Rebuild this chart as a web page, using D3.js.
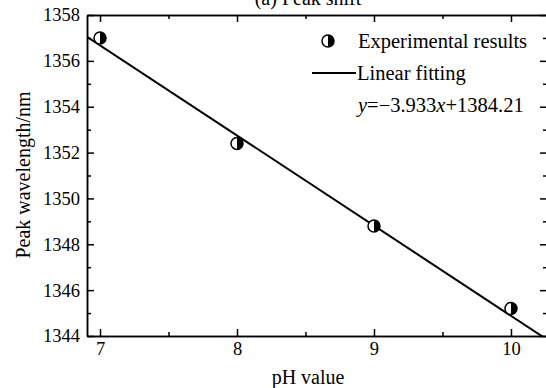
<!DOCTYPE html>
<html>
<head>
<meta charset="utf-8">
<script src="https://cdn.jsdelivr.net/npm/d3@7"></script>
<style>
  body { margin: 0; background: #fff; }
  svg text { font-family: "Liberation Serif", "DejaVu Serif", serif !important; fill: #000; }
  .axis path, .axis line { stroke: #000; stroke-width: 1.5; }
</style>
</head>
<body>
<div id="chart"></div>
<script>
// pH vs peak wavelength
const phValues = [7, 8, 9, 10];
const peakWavelengths = [1357.0, 1352.4, 1348.8, 1345.2];
const fitSlope = -3.933;
const fitIntercept = 1384.21;
const xTicks = [7, 8, 9, 10];
const xMinorTicks = [7.5, 8.5, 9.5];
const yTicks = [1344, 1346, 1348, 1350, 1352, 1354, 1356, 1358];
const yMinorTicks = [1345, 1347, 1349, 1351, 1353, 1355, 1357];

const FONT = '"Liberation Serif", "DejaVu Serif", serif';

const config = {
  width: 546,
  height: 388,
  markerRadius: 6
};

const svg = d3.select('#chart').append('svg')
  .attr('width', config.width)
  .attr('height', config.height);

const x = d3.scaleLinear().domain([6.905, 10.263]).range([87, 547]);
const y = d3.scaleLinear().domain([1344, 1358]).range([336, 15]);

// clip so the fit line stops at the frame
svg.append('defs').append('clipPath').attr('id', 'plot-clip')
  .append('rect')
  .attr('x', x.range()[0]).attr('y', y.range()[1])
  .attr('width', x.range()[1] - x.range()[0])
  .attr('height', y.range()[0] - y.range()[1]);

// axes: major ticks with labels, minor ticks without, all pointing inward
const addAxis = (axis, tx, ty) => svg.append('g')
  .attr('class', 'axis')
  .attr('transform', `translate(${tx},${ty})`)
  .call(axis)
  .attr('font-family', FONT)
  .attr('font-size', 18.5);

addAxis(d3.axisBottom(x).tickValues(xTicks).tickSizeInner(-7).tickSizeOuter(0).tickPadding(6).tickFormat(d3.format('d')), 0, 336);
addAxis(d3.axisBottom(x).tickValues(xMinorTicks).tickSizeInner(-4).tickSizeOuter(0).tickFormat(''), 0, 336);
addAxis(d3.axisTop(x).tickValues(xTicks).tickSizeInner(-7).tickSizeOuter(0).tickFormat(''), 0, 15);
addAxis(d3.axisTop(x).tickValues(xMinorTicks).tickSizeInner(-4).tickSizeOuter(0).tickFormat(''), 0, 15);

addAxis(d3.axisLeft(y).tickValues(yTicks).tickSizeInner(-7).tickSizeOuter(0).tickPadding(7).tickFormat(d3.format('d')), 87, 0);
addAxis(d3.axisLeft(y).tickValues(yMinorTicks).tickSizeInner(-4).tickSizeOuter(0).tickFormat(''), 87, 0);
addAxis(d3.axisRight(y).tickValues(yTicks).tickSizeInner(-7).tickSizeOuter(0).tickFormat(''), 547, 0);
addAxis(d3.axisRight(y).tickValues(yMinorTicks).tickSizeInner(-4).tickSizeOuter(0).tickFormat(''), 547, 0);

// fitted line
const xDomain = x.domain();
svg.append('line')
  .attr('clip-path', 'url(#plot-clip)')
  .attr('x1', x(xDomain[0])).attr('y1', y(fitSlope * xDomain[0] + fitIntercept))
  .attr('x2', x(xDomain[1])).attr('y2', y(fitSlope * xDomain[1] + fitIntercept))
  .attr('stroke', '#000')
  .attr('stroke-width', 2);

// half-filled circle marker (right half black)
const halfArc = d3.arc().innerRadius(0).outerRadius(config.markerRadius)
  .startAngle(0).endAngle(Math.PI);

function drawMarker(g) {
  g.append('circle')
    .attr('r', config.markerRadius)
    .attr('fill', '#fff')
    .attr('stroke', '#000')
    .attr('stroke-width', 1.5);
  g.append('path')
    .attr('d', halfArc())
    .attr('fill', '#000');
}

svg.selectAll('.point')
  .data(phValues.map((d, i) => ({ph: d, wl: peakWavelengths[i]})))
  .join('g')
  .attr('class', 'point')
  .attr('transform', d => `translate(${x(d.ph)},${y(d.wl)})`)
  .each(function() { drawMarker(d3.select(this)); });

// legend
const legend = svg.append('g').attr('class', 'legend')
  .attr('font-family', FONT)
  .attr('font-size', 20.5);
drawMarker(legend.append('g').attr('transform', 'translate(328,41)'));
legend.append('text')
  .attr('x', 358).attr('y', 48)
  .text('Experimental results');
legend.append('line')
  .attr('x1', 312).attr('x2', 356)
  .attr('y1', 73).attr('y2', 73)
  .attr('stroke', '#000').attr('stroke-width', 2);
legend.append('text')
  .attr('x', 357).attr('y', 80)
  .text('Linear fitting');

const eq = legend.append('text')
  .attr('x', 358).attr('y', 112);
eq.append('tspan').attr('font-style', 'italic').text('y');
eq.append('tspan').text('=\u22123.933');
eq.append('tspan').attr('font-style', 'italic').text('x');
eq.append('tspan').text('+1384.21');

// titles
const label = (txt, transform) => svg.append('text')
  .attr('transform', transform)
  .attr('text-anchor', 'middle')
  .attr('font-family', FONT)
  .attr('font-size', 20)
  .text(txt);

label('(a) Peak shift', 'translate(308,5)');
label('pH value', 'translate(308,384)');
label('Peak wavelength/nm', 'translate(30,175) rotate(-90)');
</script>
</body>
</html>
